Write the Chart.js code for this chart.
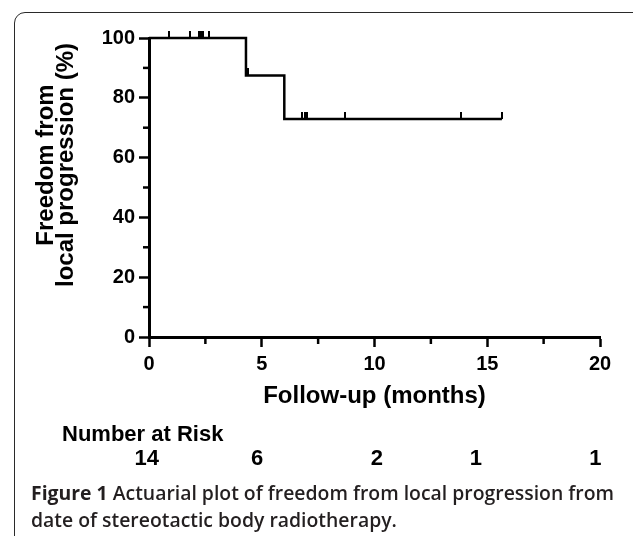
<!DOCTYPE html>
<html>
<head>
<meta charset="utf-8">
<title>Freedom from local progression</title>
<script src="https://cdn.jsdelivr.net/npm/chart.js@4.4.0/dist/chart.umd.min.js"></script>
<style>
    html, body { margin: 0; padding: 0; background: #fff; overflow: hidden; }
    #wrap { position: relative; width: 633px; height: 536px; overflow: hidden; }
    #frame {
        position: absolute; left: 14px; top: 12px; width: 700px; height: 600px;
        border: 1.6px solid #2a2a2a; border-radius: 11px; box-sizing: border-box;
    }
    #chart { position: absolute; left: 0; top: 0; }
    #caption {
        position: absolute; left: 31px; top: 479px;
        font-family: 'Open Sans', sans-serif; font-size: 19.4px; line-height: 27px;
        font-weight: 600; color: #231f20; white-space: nowrap;
    }
    #caption b { font-weight: 700; }
</style>
</head>
<body>
<div id="wrap">
    <div id="frame"></div>
    <canvas id="chart" width="633" height="536"></canvas>
    <div id="caption"><b>Figure 1</b> Actuarial plot of freedom from local progression from<br>date of stereotactic body radiotherapy.</div>
</div>
<script>
// Kaplan-Meier curve (months, %)
const curveTimes = [0, 4.3, 6.0, 15.65];
const curveSurvival = [100, 87.5, 72.9, 72.9];

// Censored observations
const censorTimes = [0.87, 1.81, 2.2, 2.3, 2.4, 2.66, 4.4, 6.8, 6.9, 7.0, 8.7, 13.85, 15.65];
const censorSurvival = [100, 100, 100, 100, 100, 100, 87.5, 72.9, 72.9, 72.9, 72.9, 72.9, 72.9];

// Axis ticks
const xTicks = [0, 5, 10, 15, 20];
const xMinorTicks = [2.5, 7.5, 12.5, 17.5];
const yTicks = [0, 20, 40, 60, 80, 100];
const yMinorTicks = [10, 30, 50, 70, 90];

// Number at risk table
const riskTitle = 'Number at Risk';
const riskTimes = [-0.1, 4.8, 10.1, 14.5, 19.8];
const riskCounts = [14, 6, 2, 1, 1];

const yTitleLines = ['Freedom from', 'local progression (%)'];
const xTitle = 'Follow-up (months)';

const FONT = "'Liberation Sans', Arial, sans-serif";
Chart.defaults.color = '#000';

/**
 * Small vertical tick used as the censor mark (sits on top of the curve)
 */
function makeCensorMark() {
    const c = document.createElement('canvas');
    c.width = 2;
    c.height = 14;
    const g = c.getContext('2d');
    g.fillStyle = '#000';
    g.fillRect(0, 0, 2, 7);
    return c;
}

/**
 * Minor ticks, rotated y title and number-at-risk row
 */
const extrasPlugin = {
    id: 'extras',
    afterDraw(chart) {
        const ctx = chart.ctx;
        const xs = chart.scales.x;
        const ys = chart.scales.y;
        const area = chart.chartArea;

        ctx.save();
        ctx.strokeStyle = '#000';
        ctx.lineWidth = 2.5;
        xMinorTicks.forEach(v => {
            const px = xs.getPixelForValue(v);
            ctx.beginPath();
            ctx.moveTo(px, area.bottom);
            ctx.lineTo(px, area.bottom + 7);
            ctx.stroke();
        });
        yMinorTicks.forEach(v => {
            const py = ys.getPixelForValue(v);
            ctx.beginPath();
            ctx.moveTo(area.left - 6, py);
            ctx.lineTo(area.left, py);
            ctx.stroke();
        });

        // y axis title, two lines
        ctx.fillStyle = '#000';
        ctx.font = 'bold 24px ' + FONT;
        ctx.textAlign = 'center';
        ctx.textBaseline = 'middle';
        const titleX = [46, 66];
        yTitleLines.forEach((line, i) => {
            ctx.save();
            ctx.translate(titleX[i], 165);
            ctx.rotate(-Math.PI / 2);
            ctx.fillText(line, 0, 0);
            ctx.restore();
        });

        // number at risk
        ctx.font = 'bold 22px ' + FONT;
        ctx.textAlign = 'left';
        ctx.fillText(riskTitle, 62, 435);
        ctx.textAlign = 'center';
        riskCounts.forEach((n, i) => {
            ctx.fillText(String(n), xs.getPixelForValue(riskTimes[i]), 459);
        });
        ctx.restore();
    }
};

new Chart(document.getElementById('chart'), {
    type: 'line',
    data: {
        datasets: [
            {
                label: 'Freedom from local progression',
                data: curveTimes.map((t, i) => ({ x: t, y: curveSurvival[i] })),
                stepped: true,
                borderColor: '#000',
                borderWidth: 2.5,
                pointRadius: 0,
                fill: false,
                clip: false
            },
            {
                label: 'Censored',
                data: censorTimes.map((t, i) => ({ x: t, y: censorSurvival[i] })),
                showLine: false,
                pointStyle: makeCensorMark(),
                pointRadius: 3,
                clip: false
            }
        ]
    },
    options: {
        responsive: false,
        animation: false,
        devicePixelRatio: 1,
        layout: { padding: { top: 38, right: 33, bottom: 125, left: 0 } },
        plugins: {
            legend: { display: false },
            tooltip: { enabled: false }
        },
        scales: {
            x: {
                type: 'linear',
                min: 0,
                max: 20,
                afterBuildTicks: s => { s.ticks = xTicks.map(v => ({ value: v })); },
                afterFit: s => { s.height = 74; },
                ticks: {
                    color: '#000',
                    padding: 5,
                    maxRotation: 0,
                    autoSkip: false,
                    font: { family: FONT, size: 20, weight: 'bold' }
                },
                grid: {
                    drawOnChartArea: false,
                    drawTicks: true,
                    tickLength: 10,
                    tickWidth: 2.5,
                    tickColor: '#000'
                },
                border: { display: true, color: '#000', width: 3 },
                title: {
                    display: true,
                    text: xTitle,
                    color: '#000',
                    padding: 0,
                    font: { family: FONT, size: 24, weight: 'bold' }
                }
            },
            y: {
                min: 0,
                max: 100,
                afterBuildTicks: s => { s.ticks = yTicks.map(v => ({ value: v })); },
                afterFit: s => { s.width = 149; },
                ticks: {
                    color: '#000',
                    padding: 4,
                    font: { family: FONT, size: 20, weight: 'bold' }
                },
                grid: {
                    drawOnChartArea: false,
                    drawTicks: true,
                    tickLength: 10,
                    tickWidth: 2.5,
                    tickColor: '#000'
                },
                border: { display: true, color: '#000', width: 3 }
            }
        }
    },
    plugins: [extrasPlugin]
});
</script>
</body>
</html>
